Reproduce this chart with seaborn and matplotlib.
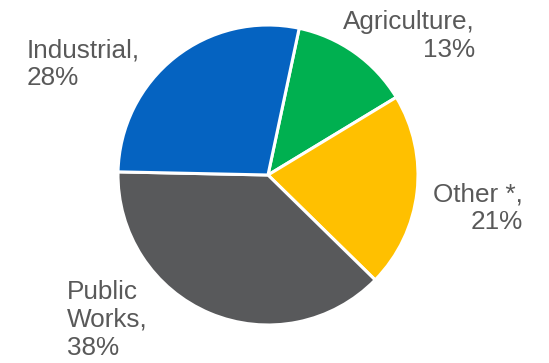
import matplotlib
matplotlib.use("Agg")
import matplotlib.pyplot as plt
import seaborn as sns

categories = ["Agriculture", "Other *", "Public Works", "Industrial"]
label_text = ["Agriculture,\n13%", "Other *,\n21%", "Public\nWorks,\n38%", "Industrial,\n28%"]
values = [13, 21, 38, 28]
colors = ["#00B050", "#FFC000", "#58595B", "#0563C1"]

sns.set_theme(style="white")
plt.rcParams['font.family'] = ['Liberation Sans', 'DejaVu Sans']

W, H = 549, 363
fig = plt.figure(figsize=(W / 100, H / 100), dpi=100)
ax = fig.add_axes([0, 0, 1, 1])

cx, cy, R = 268, 175, 150  # pie centre / radius in pixels


def px(x, y):
    return (x - cx) / R, (cy - y) / R


ax.pie(values, colors=sns.color_palette(colors), startangle=78, counterclock=False,
       radius=1, center=(0, 0),
       wedgeprops=dict(edgecolor="white", linewidth=2.2))
ax.set_xlim(px(0, 0)[0], px(W, 0)[0])
ax.set_ylim(px(0, H)[1], px(0, 0)[1])
ax.set_aspect("auto")
ax.axis("off")

# label layout: (x px, y px, ha)
layout = {
    "Agriculture": (475, 36, "right"),
    "Other *": (523, 208, "right"),
    "Public Works": (67, 320, "left"),
    "Industrial": (27, 64, "left"),
}
for cat, txt in zip(categories, label_text):
    x, y, ha = layout[cat]
    tx, ty = px(x, y)
    ax.text(tx, ty, txt, ha=ha, va="center", fontsize=18.8, color="#595959",
            linespacing=1.2, multialignment=ha)

fig.savefig("out.png", dpi=100)
